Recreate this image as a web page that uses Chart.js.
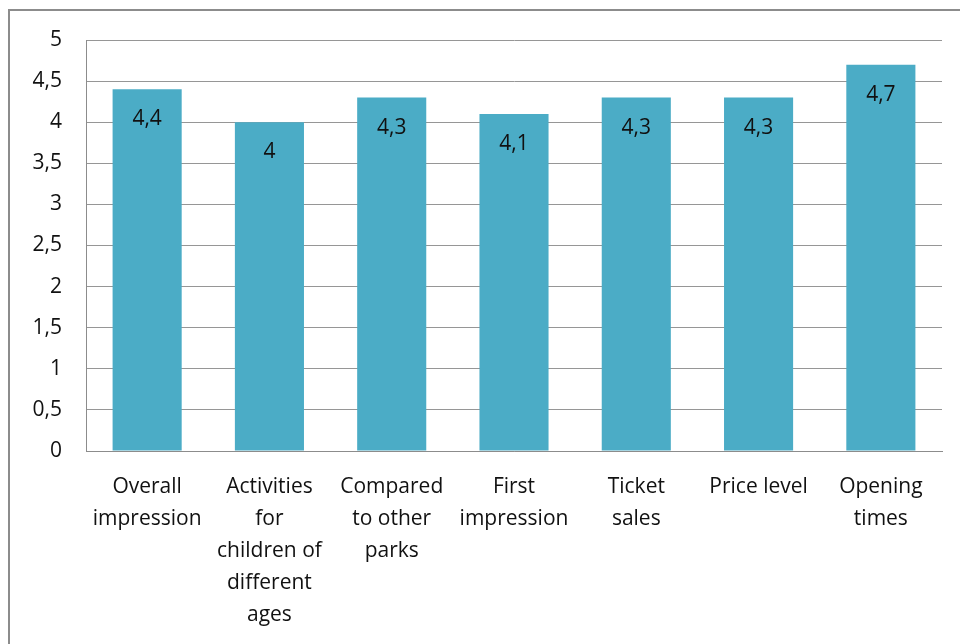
<!DOCTYPE html>
<html>
<head>
<meta charset="utf-8">
<script src="https://cdn.jsdelivr.net/npm/chart.js@4/dist/chart.umd.min.js"></script>
<style>
  html, body { margin: 0; padding: 0; background: #fff; overflow: hidden; }
  #wrap { position: relative; width: 960px; height: 644px; }
  #frame {
    position: absolute; left: 8px; top: 9px; width: 1000px; height: 700px;
    border: 2px solid #8c8c8c; box-sizing: border-box;
  }
  canvas { position: absolute; left: 0; top: 0; }
</style>
</head>
<body>
<div id="wrap">
  <div id="frame"></div>
  <canvas id="ratingChart" width="960" height="644"></canvas>
</div>
<script>
// Average ratings per topic (scale 0-5)
const topics = [
  ['Overall', 'impression'],
  ['Activities', 'for', 'children of', 'different', 'ages'],
  ['Compared', 'to other', 'parks'],
  ['First', 'impression'],
  ['Ticket', 'sales'],
  ['Price level'],
  ['Opening', 'times']
];
const ratings = [4.4, 4, 4.3, 4.1, 4.3, 4.3, 4.7];
const yTicks = [0, 0.5, 1, 1.5, 2, 2.5, 3, 3.5, 4, 4.5, 5];

const fontFamily = "'Open Sans', 'Noto Sans', sans-serif";

function commaNum(v) {
  return String(v).replace('.', ',');
}

// writes each value inside its bar, just under the top
const barValues = {
  id: 'barValues',
  afterDatasetsDraw(chart) {
    const ctx = chart.ctx;
    const meta = chart.getDatasetMeta(0);
    ctx.save();
    ctx.font = '21px ' + fontFamily;
    ctx.fillStyle = '#111';
    ctx.textAlign = 'center';
    ctx.textBaseline = 'middle';
    meta.data.forEach((bar, i) => {
      ctx.fillText(commaNum(ratings[i]), bar.x, bar.y + 30);
    });
    ctx.restore();
  }
};

new Chart(document.getElementById('ratingChart'), {
  type: 'bar',
  data: {
    labels: topics,
    datasets: [{
      data: ratings,
      backgroundColor: '#4bacc6',
      borderWidth: 0,
      barPercentage: 0.565,
      categoryPercentage: 1
    }]
  },
  options: {
    responsive: false,
    animation: false,
    layout: { padding: { left: 0, right: 18, top: 40, bottom: 0 } },
    plugins: {
      legend: { display: false },
      tooltip: { enabled: false }
    },
    scales: {
      x: {
        grid: { display: false, drawTicks: false },
        border: { display: true, color: '#8c8c8c', width: 1 },
        ticks: {
          color: '#111',
          font: { family: fontFamily, size: 21, lineHeight: 1.52 },
          padding: 20,
          maxRotation: 0,
          autoSkip: false
        },
        afterFit(scale) { scale.height = 193; }
      },
      y: {
        min: 0,
        max: 5,
        afterBuildTicks(scale) {
          scale.ticks = yTicks.map(v => ({ value: v }));
        },
        grid: { color: '#969696', lineWidth: 1, drawTicks: false },
        border: { display: true, color: '#8c8c8c', width: 1 },
        ticks: {
          color: '#111',
          font: { family: fontFamily, size: 21 },
          padding: 24,
          callback: v => commaNum(v)
        },
        afterFit(scale) { scale.width = 86; }
      }
    }
  },
  plugins: [barValues]
});
</script>
</body>
</html>
